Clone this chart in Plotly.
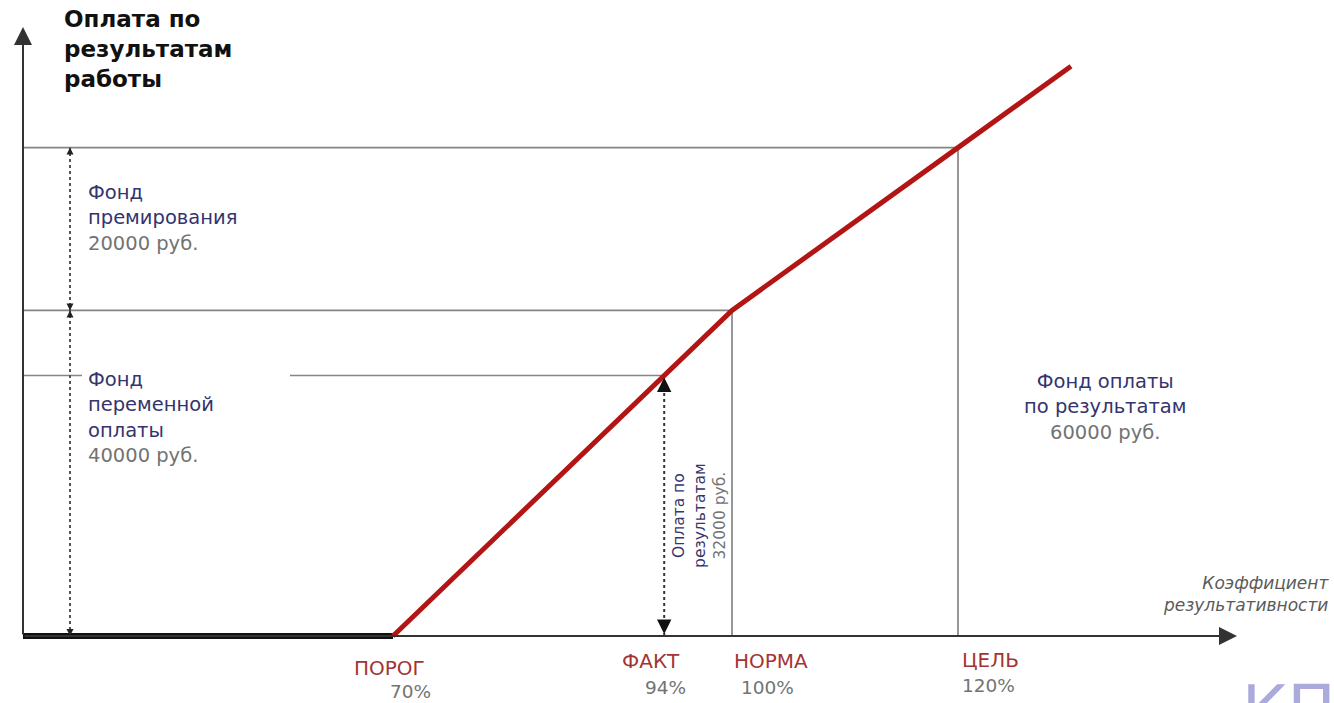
import plotly.graph_objects as go

# ---------------- data ----------------
KPI_LABELS = ["ПОРОГ", "ФАКТ", "НОРМА", "ЦЕЛЬ"]
KPI_PCT = [70, 94, 100, 120]
PAY_CURVE_PCT = [70, 100, 120, 130]
PAY_CURVE_RUB = [0, 40000, 60000, 70000]
VARIABLE_FUND = 40000
BONUS_FUND = 20000
TOTAL_FUND = 60000
FACT_PAY = 32000

THRESHOLD_PCT, FACT_PCT, NORM_PCT, TARGET_PCT = KPI_PCT

# ---------------- layout helpers ----------------
W, H = 1334, 703
X_PX_PER = 11.3          # pixels per percent
X_REF_PCT, X_REF_PX = 100, 732
Y_PX_PER = 8.14 / 1000   # pixels per rouble
Y0_PX = 636


def px2x(px):
    return X_REF_PCT + (px - X_REF_PX) / X_PX_PER


def py2y(py):
    return (Y0_PX - py) / Y_PX_PER


def P(px, py):
    return px / W, 1 - py / H


AX_X = px2x(23)
LEFT_ARROW_X = px2x(70)

FONT = "DejaVu Sans"
NAVY = "#34346e"
GREY_TXT = "#737373"
RED_TXT = "#a43434"
GUIDE = "#858585"

fig = go.Figure()

# thin guide lines
gx = [AX_X, TARGET_PCT, None,
      AX_X, NORM_PCT, None,
      AX_X, px2x(82), None, px2x(290), FACT_PCT, None,
      NORM_PCT, NORM_PCT, None,
      TARGET_PCT, TARGET_PCT]
gy = [TOTAL_FUND, TOTAL_FUND, None,
      VARIABLE_FUND, VARIABLE_FUND, None,
      FACT_PAY, FACT_PAY, None, FACT_PAY, FACT_PAY, None,
      0, VARIABLE_FUND, None,
      0, TOTAL_FUND]
fig.add_trace(go.Scatter(x=gx, y=gy, mode="lines",
                         line=dict(color=GUIDE, width=1.7),
                         hoverinfo="skip", showlegend=False))

# dotted measure lines
fig.add_trace(go.Scatter(x=[LEFT_ARROW_X, LEFT_ARROW_X], y=[0, TOTAL_FUND],
                         mode="lines", line=dict(color="#555", width=2, dash="dot"),
                         hoverinfo="skip", showlegend=False))
fig.add_trace(go.Scatter(x=[FACT_PCT, FACT_PCT], y=[0, FACT_PAY],
                         mode="lines", line=dict(color="#333", width=2, dash="dot"),
                         hoverinfo="skip", showlegend=False))

# thick zero segment
fig.add_trace(go.Scatter(x=[AX_X, THRESHOLD_PCT], y=[0, 0], mode="lines",
                         line=dict(color="#111111", width=6),
                         hoverinfo="skip", showlegend=False))

# red pay curve
fig.add_trace(go.Scatter(x=PAY_CURVE_PCT, y=PAY_CURVE_RUB, mode="lines",
                         line=dict(color="#b31515", width=5),
                         hoverinfo="skip", showlegend=False))

ann = []

# axes with arrows
xa, ya = P(1237, 636)
ann.append(dict(x=xa, y=ya, xref="paper", yref="paper", ax=-(1237 - 23), ay=0,
                showarrow=True, arrowhead=2, arrowsize=1.8, arrowwidth=2,
                arrowcolor="#333", text=""))
xa, ya = P(23, 27)
ann.append(dict(x=xa, y=ya, xref="paper", yref="paper", ax=0, ay=636 - 27,
                showarrow=True, arrowhead=2, arrowsize=1.8, arrowwidth=2,
                arrowcolor="#333", text=""))

# small arrowheads on left measure line
for yv, ay in [(TOTAL_FUND, 8), (VARIABLE_FUND, -8), (VARIABLE_FUND, 8), (0, -8)]:
    ann.append(dict(x=LEFT_ARROW_X, y=yv, xref="x", yref="y", ax=0, ay=ay,
                    showarrow=True, arrowhead=2, arrowsize=1, arrowwidth=1.4,
                    arrowcolor="#222", standoff=0, text=""))
# big arrowheads on fact measure line
for yv, ay in [(FACT_PAY, 14), (0, -14)]:
    ann.append(dict(x=FACT_PCT, y=yv, xref="x", yref="y", ax=0, ay=ay,
                    showarrow=True, arrowhead=2, arrowsize=1.6, arrowwidth=1.8,
                    arrowcolor="#111", standoff=2, text=""))


def txt(px, py, text, size, color=NAVY, xanchor="left", yanchor="middle",
        align="left", angle=0):
    x, y = P(px, py)
    ann.append(dict(x=x, y=y, xref="paper", yref="paper", text=text,
                    showarrow=False, xanchor=xanchor, yanchor=yanchor,
                    align=align, textangle=angle,
                    font=dict(family=FONT, size=size, color=color)))


# title of the vertical axis
txt(62, 4, "<b>Оплата по<br>результатам<br>работы</b>", 23, "#111111",
    yanchor="top")

# bonus fund
txt(86, 218, f"Фонд<br>премирования<br><span style='color:{GREY_TXT}'>"
    f"{BONUS_FUND} руб.</span>", 19.5)

# variable fund
line32 = Y0_PX - FACT_PAY * Y_PX_PER
txt(86, line32 + 42, f"Фонд<br>переменной<br>оплаты<br><span style='color:{GREY_TXT}'>"
    f"{VARIABLE_FUND} руб.</span>", 19.5)

# total fund
txt(1105, 407, f"Фонд оплаты<br>по результатам<br><span style='color:{GREY_TXT}'>"
    f"{TOTAL_FUND} руб.</span>", 19.5, xanchor="center", align="center")

# fact pay (rotated)
fact_px = X_REF_PX + (FACT_PCT - X_REF_PCT) * X_PX_PER
txt(fact_px + 35, (line32 + Y0_PX) / 2 + 10,
    f"Оплата по<br>результатам<br><span style='color:{GREY_TXT}'>{FACT_PAY} руб.</span>",
    15.5, xanchor="center", align="center", angle=-90)

# x axis caption
txt(1331, 594, "<i>Коэффициент<br>результативности</i>", 17, "#5a5a5a",
    xanchor="right", align="right")

# KPI labels under the axis
name_shift = [-4, -13, 39, 32]
pct_shift = [18, 1, 36, 30]
name_y = [668, 661, 661, 660]
pct_y = [691, 687, 687, 685]
for lab, pct, ns, ps, ny, pyy in zip(KPI_LABELS, KPI_PCT, name_shift, pct_shift,
                                     name_y, pct_y):
    cx = X_REF_PX + (pct - X_REF_PCT) * X_PX_PER
    txt(cx + ns, ny, lab, 20, RED_TXT, xanchor="center", align="center")
    txt(cx + ps, pyy, f"{pct}%", 18.5, GREY_TXT, xanchor="center", align="center")

# watermark fragment
txt(1240, 670, "КПЭ", 64, "#aaaadc", yanchor="top")

fig.update_layout(
    width=W, height=H,
    margin=dict(l=0, r=0, t=0, b=0),
    paper_bgcolor="white", plot_bgcolor="white",
    xaxis=dict(range=[px2x(0), px2x(W)], visible=False, fixedrange=True),
    yaxis=dict(range=[py2y(H), py2y(0)], visible=False, fixedrange=True),
    annotations=ann,
    showlegend=False,
)

fig.write_html("out.html")
